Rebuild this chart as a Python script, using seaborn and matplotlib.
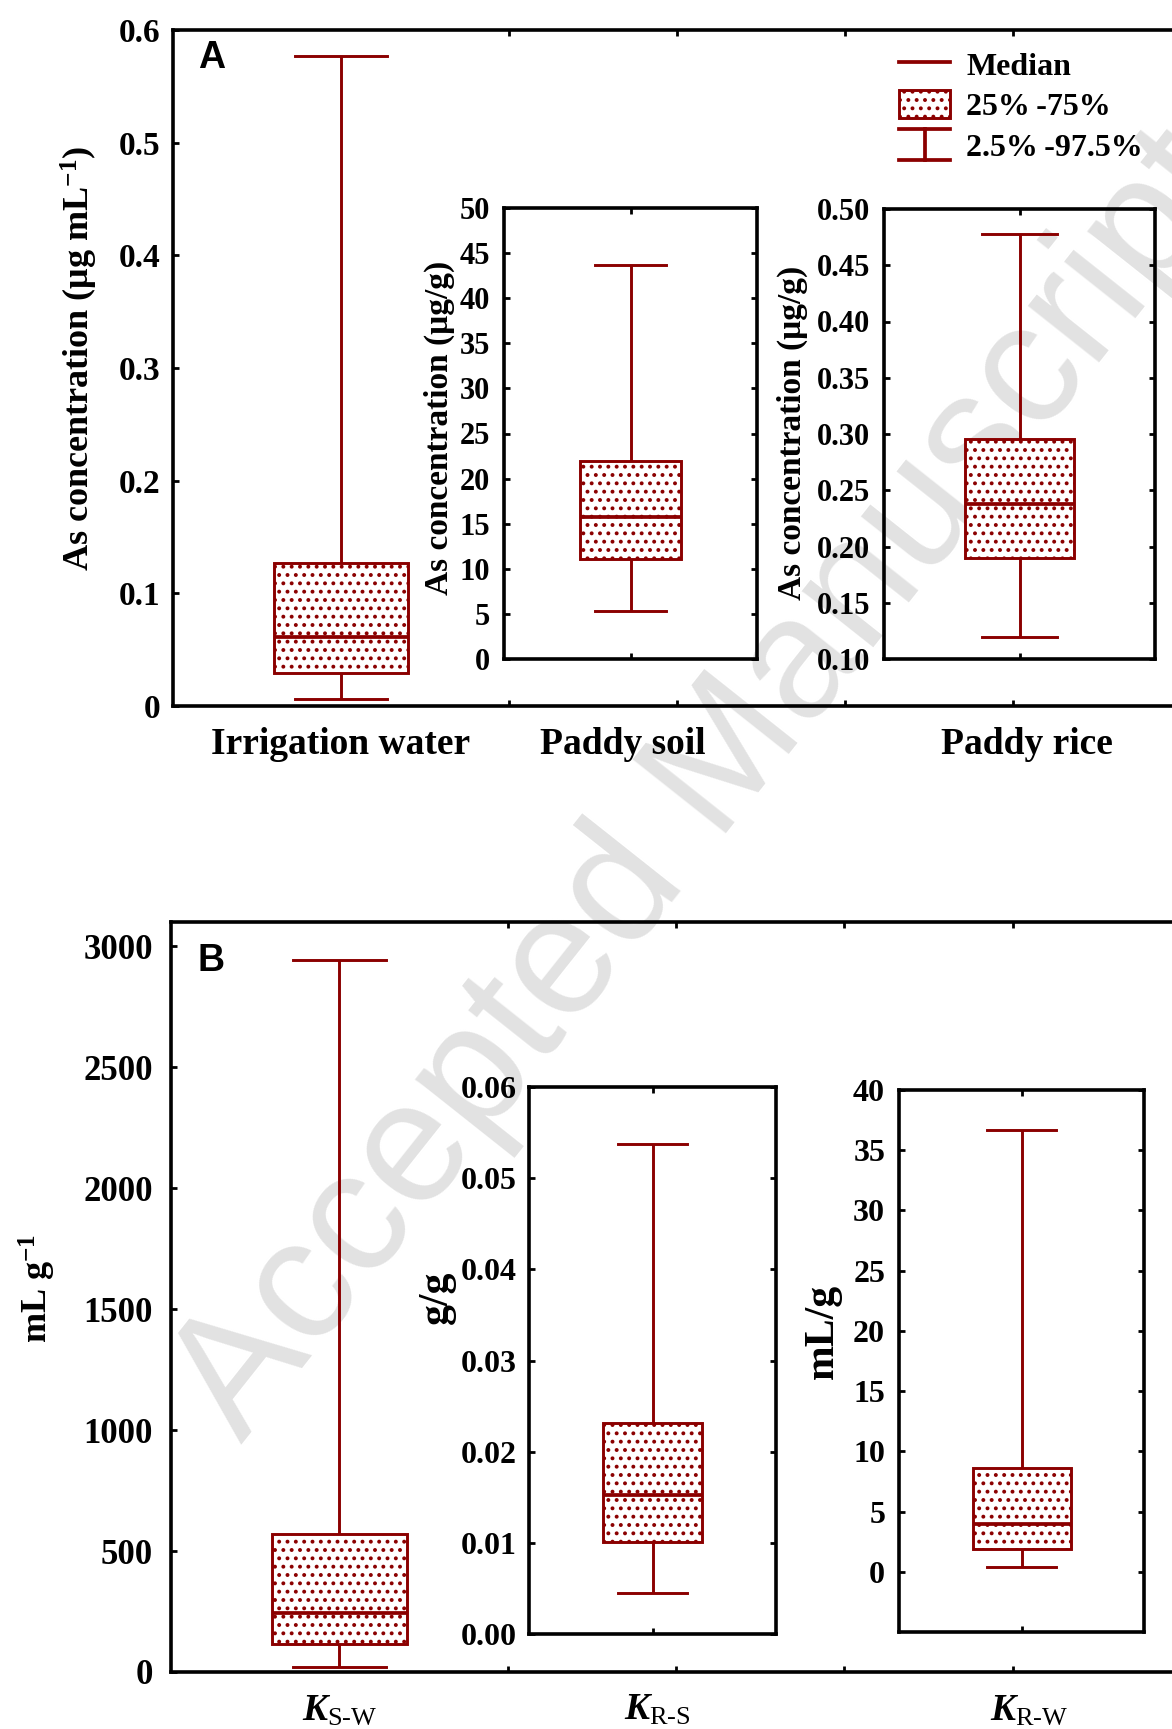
import numpy as np
import pandas as pd
import matplotlib
matplotlib.use('Agg')
import matplotlib.pyplot as plt
import seaborn as sns
from matplotlib.lines import Line2D
from matplotlib.patches import Patch
from matplotlib.legend_handler import HandlerBase

DARK = '#8b0000'

# each list: 2.5%, 25%, median, 75%, 97.5%
water = [0.0065, 0.029, 0.0615, 0.127, 0.5765]
soil = [5.3, 11.1, 15.7, 22.0, 43.7]
rice = [0.120, 0.190, 0.238, 0.296, 0.478]
k_sw = [21, 116, 244, 570, 2942]
k_rs = [0.0045, 0.0101, 0.0152, 0.0231, 0.0538]
k_rw = [0.4, 1.9, 4.0, 8.6, 36.7]

a_labels = ['Irrigation water', 'Paddy soil', 'Paddy rice']
b_labels = ['$\\mathit{K}_{\\mathrm{S\u2010W}}$',
            '$\\mathit{K}_{\\mathrm{R\u2010S}}$',
            '$\\mathit{K}_{\\mathrm{R\u2010W}}$']
a_label_pos = [0, 1.68, 4.08]
b_label_pos = [0, 1.89, 4.10]

water_ticks = [0, 0.1, 0.2, 0.3, 0.4, 0.5, 0.6]
water_ticklabels = ['0', '0.1', '0.2', '0.3', '0.4', '0.5', '0.6']
soil_ticks = [0, 5, 10, 15, 20, 25, 30, 35, 40, 45, 50]
rice_ticks = [0.10, 0.15, 0.20, 0.25, 0.30, 0.35, 0.40, 0.45, 0.50]
ksw_ticks = [0, 500, 1000, 1500, 2000, 2500, 3000]
krs_ticks = [0.00, 0.01, 0.02, 0.03, 0.04, 0.05, 0.06]
krw_ticks = [0, 5, 10, 15, 20, 25, 30, 35, 40]

legend_labels = ['Median', '25%\u2009-75%', '2.5%\u2009-97.5%']

plt.rcParams['font.family'] = ['Liberation Serif', 'DejaVu Sans']
plt.rcParams['font.weight'] = 'bold'
plt.rcParams['axes.labelweight'] = 'bold'
plt.rcParams['mathtext.fontset'] = 'custom'
plt.rcParams['mathtext.rm'] = 'Liberation Serif:weight=normal'
plt.rcParams['mathtext.it'] = 'Liberation Serif:italic:bold'
plt.rcParams['mathtext.default'] = 'regular'
plt.rcParams['hatch.color'] = DARK
plt.rcParams['hatch.linewidth'] = 1.6

W, H = 1172, 1729
fig = plt.figure(figsize=(W / 100, H / 100), dpi=100)


def add_px(x0, y0, x1, y1):
    return fig.add_axes([x0 / W, 1 - y1 / H, (x1 - x0) / W, (y1 - y0) / H])


def draw_box(ax, values, width, capw):
    sns.boxplot(y=values, ax=ax, width=width, whis=(0, 100), color='white',
                linecolor=DARK, linewidth=2.1, fliersize=0, capwidths=capw,
                medianprops={'linewidth': 2.7})
    for p in ax.patches:
        p.set_hatch('..')


def style(ax, ylim, ticks, ticklabels, fs, pad, right=True):
    ax.set_facecolor('none')
    ax.set_ylim(ylim)
    ax.set_yticks(ticks, ticklabels)
    for s in ax.spines.values():
        s.set_linewidth(2.6)
    ax.tick_params(axis='y', direction='in', length=4, width=2,
                   labelsize=fs, pad=pad, right=right)
    ax.set_xlabel('')


def main_x(ax, label_pos, labels, fs):
    ax.set_xlim(-1, 5)
    ax.set_xticks(label_pos, labels)
    ax.set_xticks([0, 1, 2, 3, 4], minor=True)
    ax.tick_params(axis='x', which='major', length=0, labelsize=fs, pad=15)
    ax.tick_params(axis='x', which='minor', direction='in', top=True,
                   length=4, width=2)


def inset_x(ax):
    ax.set_xlim(-0.5, 0.5)
    ax.set_xticks([0], [''])
    ax.tick_params(axis='x', direction='in', top=True, length=4, width=2)


# ---- panel A ----
axA = add_px(173, 30, 1181, 706)
draw_box(axA, water, 0.8, 0.55)
style(axA, (0, 0.6), water_ticks, water_ticklabels, 24, 9, right=False)
main_x(axA, a_label_pos, a_labels, 27)
axA.set_ylabel('As concentration (\u03bcg mL$^{-1}$)', fontsize=26)
axA.yaxis.set_label_coords(-0.072, 0.515)
axA.text(0.025, 0.985, 'A', transform=axA.transAxes, family='Liberation Sans',
         weight='bold', fontsize=27, va='top', ha='left')

axA1 = add_px(504, 208, 757, 659)
draw_box(axA1, soil, 0.4, 0.28)
style(axA1, (0, 50), soil_ticks, [str(t) for t in soil_ticks], 22, 10)
inset_x(axA1)
axA1.set_ylabel('As concentration (\u03bcg/g)', fontsize=24)
axA1.yaxis.set_label_coords(-0.194, 0.512)

axA2 = add_px(884, 209, 1155, 659)
draw_box(axA2, rice, 0.4, 0.28)
style(axA2, (0.10, 0.50), rice_ticks, ['%.2f' % t for t in rice_ticks], 22, 10)
inset_x(axA2)
axA2.set_ylabel('As concentration (\u03bcg/g)', fontsize=24)
axA2.yaxis.set_label_coords(-0.28, 0.502)


class WhiskerHandler(HandlerBase):
    def create_artists(self, legend, orig_handle, xdescent, ydescent,
                       width, height, fontsize, trans):
        x0, x1 = -xdescent, -xdescent + width
        y0, y1 = -ydescent - 0.05 * height, -ydescent + 1.05 * height
        xm = (x0 + x1) / 2
        segs = [([x0, x1], [y0, y0]), ([x0, x1], [y1, y1]), ([xm, xm], [y0, y1])]
        out = []
        for xs, ys in segs:
            ln = Line2D(xs, ys, color=DARK, linewidth=2.7, transform=trans)
            out.append(ln)
        return out


whisker_handle = Line2D([], [], color=DARK)
handles = [Line2D([], [], color=DARK, linewidth=2.7),
           Patch(facecolor='white', edgecolor=DARK, hatch='..', linewidth=2.1),
           whisker_handle]
fig.legend(handles, legend_labels, loc='upper left',
           bbox_to_anchor=(899 / W, 1 - 50 / H), frameon=False, fontsize=23,
           handlelength=1.6, handleheight=0.95, handletextpad=0.5,
           labelspacing=0.27, borderpad=0, borderaxespad=0,
           handler_map={whisker_handle: WhiskerHandler()})

# ---- panel B ----
axB = add_px(171, 922, 1181, 1672)
draw_box(axB, k_sw, 0.8, 0.55)
style(axB, (0, 3100), ksw_ticks, [str(t) for t in ksw_ticks], 25, 13, right=False)
main_x(axB, b_label_pos, b_labels, 27)
axB.set_ylabel('mL g$^{-1}$', fontsize=26)
axB.yaxis.set_label_coords(-0.112, 0.512)
axB.text(0.026, 0.972, 'B', transform=axB.transAxes, family='Liberation Sans',
         weight='bold', fontsize=27, va='top', ha='left')

axB1 = add_px(529, 1087, 776, 1634)
draw_box(axB1, k_rs, 0.4, 0.28)
style(axB1, (0, 0.06), krs_ticks, ['%.2f' % t for t in krs_ticks], 23, 9)
inset_x(axB1)
axB1.set_ylabel('g/g', fontsize=30)
axB1.yaxis.set_label_coords(-0.296, 0.615)

axB2 = add_px(899, 1090, 1144, 1632)
draw_box(axB2, k_rw, 0.4, 0.28)
style(axB2, (-5, 40), krw_ticks, [str(t) for t in krw_ticks], 23, 10)
inset_x(axB2)
axB2.set_ylabel('mL/g', fontsize=30)
axB2.yaxis.set_label_coords(-0.233, 0.555)

# watermark
fig.text(0.603, 0.545, 'Accepted Manuscript', rotation=51.6, fontsize=124,
         color='#e2e2e2', family='Liberation Sans', weight='normal',
         ha='center', va='center', zorder=-1)

fig.savefig('out.png', dpi=100)
